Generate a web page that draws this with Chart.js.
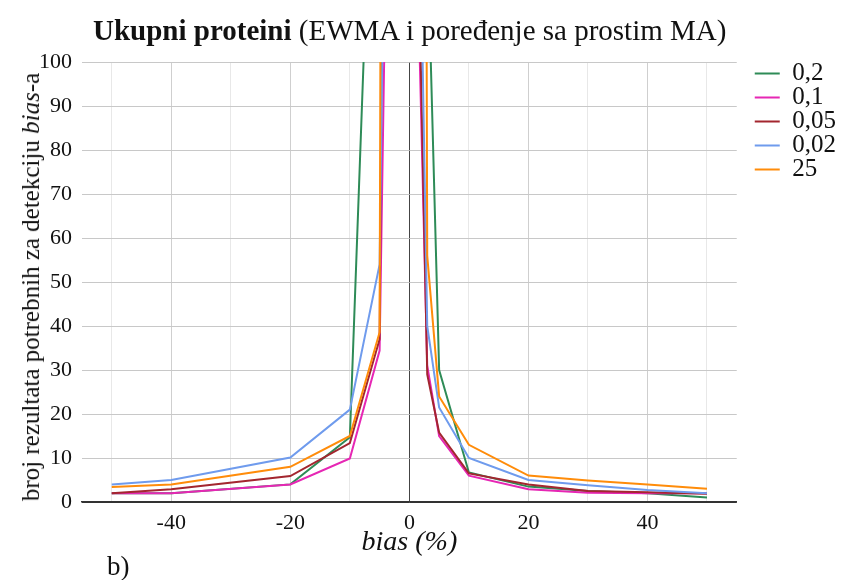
<!DOCTYPE html>
<html>
<head>
<meta charset="utf-8">
<script src="https://cdn.jsdelivr.net/npm/chart.js@4/dist/chart.umd.min.js"></script>
<style>
  body { margin: 0; background: #fff; }
  #wrap { position: relative; width: 841px; height: 580px; font-family: "Liberation Serif", serif; color: #111; }
  #title { position: absolute; left: 93px; top: 14px; font-size: 29px; white-space: nowrap; }
  #ytitle { position: absolute; left: 31px; top: 287px; font-size: 25px; white-space: nowrap;
            transform: translate(-50%, -50%) rotate(-90deg); }
  #panel { position: absolute; left: 107px; top: 551px; font-size: 27px; }
</style>
</head>
<body>
<div id="wrap">
  <canvas id="chart" width="841" height="580"></canvas>
  <div id="title"><b>Ukupni proteini</b> (EWMA i poređenje sa prostim MA)</div>
  <div id="ytitle">broj rezultata potrebnih za detekciju <i>bias</i>-a</div>
  <div id="panel">b)</div>
</div>
<script>
// bias points (%)
const biasX = [-50, -40, -20, -10, -5, -1, 1, 3, 5, 10, 20, 30, 40, 50];

// values per series (above 100 are clipped by the axis)
const ewma02 = [2, 2, 4, 14.7, 200, 420, 500, 130, 30, 6.7, 3.5, 2.5, 2, 1];
const ewma01 = [2, 2, 4, 9.9, 34.4, 380, 142, 31, 15, 6, 2.9, 2.1, 2, 2];
const ewma005 = [2, 2.9, 5.9, 13.4, 37, 800, 160, 29, 15.8, 6.5, 4, 2.5, 2.2, 1.9];
const ewma002 = [4, 5, 10.1, 21, 54, 480, 196, 40, 21.5, 10, 5, 3.8, 2.7, 2];
const ma25 = [3.4, 4, 8, 15, 38.6, 2000, 1000, 56, 24, 13, 6, 4.9, 4, 3];

const seriesNames = ['0,2', '0,1', '0,05', '0,02', '25'];
const seriesColors = ['#2e8b57', '#e627b4', '#a3262f', '#6f9bed', '#ff8c0a'];
const seriesValues = [ewma02, ewma01, ewma005, ewma002, ma25];

const xGrid = [-50, -40, -30, -20, -10, 0, 10, 20, 30, 40, 50];
const xLabels = [-40, -20, 0, 20, 40];

const datasets = seriesValues.map((vals, i) => ({
    label: seriesNames[i],
    data: biasX.map((x, j) => ({ x: x, y: vals[j] })),
    borderColor: seriesColors[i],
    backgroundColor: seriesColors[i],
    borderWidth: 2,
    pointRadius: 0,
    tension: 0,
    order: seriesValues.length - i // later series drawn on top
}));

// push the legend a bit away from the plot
const legendNudge = {
    id: 'legendNudge',
    afterLayout(chart) {
        chart.legend.left += 18;
        chart.legend.right += 18;
    }
};

const serif = '"Liberation Serif", serif';

new Chart(document.getElementById('chart'), {
    type: 'line',
    data: { datasets: datasets },
    plugins: [legendNudge],
    options: {
        responsive: false,
        animation: false,
        layout: { padding: { top: 62, left: 29, right: 13, bottom: 21 } },
        plugins: {
            title: { display: false },
            tooltip: { enabled: false },
            legend: {
                position: 'right',
                align: 'start',
                labels: {
                    usePointStyle: true,
                    pointStyle: 'line',
                    pointStyleWidth: 26,
                    boxHeight: 2,
                    padding: -1,
                    color: '#111',
                    font: { family: serif, size: 25 },
                    sort: (a, b) => a.datasetIndex - b.datasetIndex
                }
            }
        },
        scales: {
            x: {
                type: 'linear',
                min: -55,
                max: 55,
                afterBuildTicks: (scale) => { scale.ticks = xGrid.map(v => ({ value: v })); },
                ticks: {
                    autoSkip: false,
                    maxRotation: 0,
                    padding: 8,
                    color: '#111',
                    font: { family: serif, size: 22 },
                    callback: (v) => xLabels.includes(v) ? String(v) : ''
                },
                grid: {
                    drawTicks: false,
                    color: (ctx) => {
                        const v = ctx.tick ? ctx.tick.value : null;
                        if (v === 0) return '#444';
                        return v % 20 === 0 ? '#cfcfcf' : '#e8e8e8';
                    }
                },
                border: { color: '#333', width: 1.5 },
                title: {
                    display: true,
                    text: 'bias (%)',
                    color: '#111',
                    padding: { top: -19, bottom: 0 },
                    font: { family: serif, size: 28, style: 'italic' }
                }
            },
            y: {
                min: 0,
                max: 100,
                ticks: {
                    stepSize: 5,
                    padding: 10,
                    color: '#111',
                    font: { family: serif, size: 22 },
                    callback: (v) => v % 10 === 0 ? String(v) : ''
                },
                grid: {
                    drawTicks: false,
                    color: (ctx) => {
                        const v = ctx.tick ? ctx.tick.value : null;
                        if (v === 0) return '#333';
                        return v % 10 === 0 ? '#c8c8c8' : '#ebebeb';
                    }
                },
                border: { display: false }
            }
        }
    }
});
</script>
</body>
</html>
